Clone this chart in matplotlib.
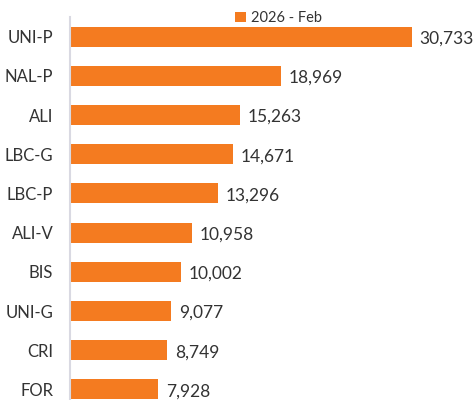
import matplotlib.pyplot as plt

# данные с графика
labels = ['UNI-P', 'NAL-P', 'ALI', 'LBC-G', 'LBC-P', 'ALI-V', 'BIS', 'UNI-G', 'CRI', 'FOR']
values = [30733, 18969, 15263, 14671, 13296, 10958, 10002, 9077, 8749, 7928]
series_name = '2026 - Feb'

bar_color = '#F47B20'
text_color = '#333333'

plt.rcParams['font.family'] = ['Lato', 'DejaVu Sans']

fig = plt.figure(figsize=(4.77, 4.0), dpi=100)
# оси частично уходят за нижний край, как на оригинале
ax = fig.add_axes([70 / 477, -9 / 400, 407 / 477, 392 / 400])

pos = list(range(len(labels)))
ax.barh(pos, values, height=0.51, color=bar_color, label=series_name)
ax.set_ylim(len(labels) - 0.5, -0.5)
ax.set_xlim(0, 30733 * 407 / 342)

for y, v in zip(pos, values):
    ax.text(v + 700, y + 0.05, f'{v:,}', va='center', ha='left',
            fontsize=12.5, color=text_color)

ax.set_yticks(pos)
ax.set_yticklabels(labels, fontsize=12, color=text_color)
ax.tick_params(axis='y', length=0, pad=12)
ax.set_xticks([])

for side in ['top', 'right', 'bottom']:
    ax.spines[side].set_visible(False)
ax.spines['left'].set_color('#d9d9e2')
ax.spines['left'].set_linewidth(1.5)

fig.legend(loc='center left', bbox_to_anchor=(228 / 477, 1 - 18 / 400),
           frameon=False, fontsize=10.5, handlelength=0.75, handleheight=0.75,
           handletextpad=0.3, borderpad=0, labelcolor=text_color)

plt.savefig('out.png', dpi=100)
